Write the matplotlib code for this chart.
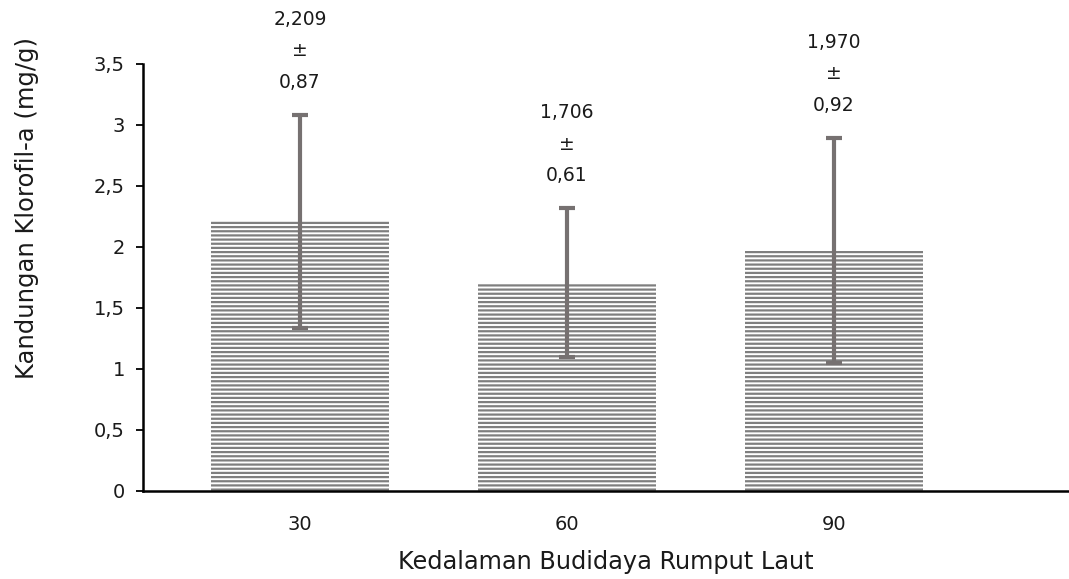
import numpy as np
import matplotlib
matplotlib.use("Agg")
import matplotlib.pyplot as plt

depths = ['30', '60', '90']
means = [2.209, 1.706, 1.970]
sds = [0.87, 0.61, 0.92]
mean_labels = ['2,209', '1,706', '1,970']
sd_labels = ['0,87', '0,61', '0,92']
yticks = [0, 0.5, 1, 1.5, 2, 2.5, 3, 3.5]
ytick_labels = ['0', '0,5', '1', '1,5', '2', '2,5', '3', '3,5']

plt.rcParams['font.family'] = ['DejaVu Sans']
plt.rcParams['hatch.linewidth'] = 1.6

fig = plt.figure(figsize=(10.69, 5.79), dpi=100)
ax = fig.add_axes([0.1338, 0.152, 0.865, 0.7375])

x = np.arange(len(depths))
ax.bar(x, means, width=0.667, facecolor='white', edgecolor='#7f7f7f',
       linewidth=0, hatch='----')
ax.errorbar(x, means, yerr=sds, fmt='none', ecolor='#767171',
            elinewidth=3, capsize=6, capthick=3)

# label di atas error bar
for xi, m, s, ml, sl in zip(x, means, sds, mean_labels, sd_labels):
    ax.text(xi, m + s + 0.19, ml + '\n±\n' + sl, ha='center', va='bottom',
            fontsize=13.5, linespacing=1.85, color='#1a1a1a')

ax.set_xlim(-0.588, 2.876)
ax.set_ylim(0, 3.5)
ax.set_xticks(x)
ax.set_xticklabels(depths)
ax.set_yticks(yticks)
ax.set_yticklabels(ytick_labels)
ax.tick_params(axis='x', length=0, pad=17, labelsize=14, labelcolor='#1a1a1a')
ax.tick_params(axis='y', length=5, width=1.3, pad=8, labelsize=14, labelcolor='#1a1a1a')
ax.spines['top'].set_visible(False)
ax.spines['right'].set_visible(False)
ax.spines['left'].set_linewidth(1.8)
ax.spines['bottom'].set_linewidth(1.8)
ax.set_xlabel('Kedalaman Budidaya Rumput Laut', fontsize=17.3, labelpad=12, color='#1a1a1a')
ax.set_ylabel('Kandungan Klorofil-a (mg/g)', fontsize=17.5, color='#1a1a1a')
ax.yaxis.set_label_coords(-0.113, 0.663)

fig.savefig('out.png', dpi=100)
